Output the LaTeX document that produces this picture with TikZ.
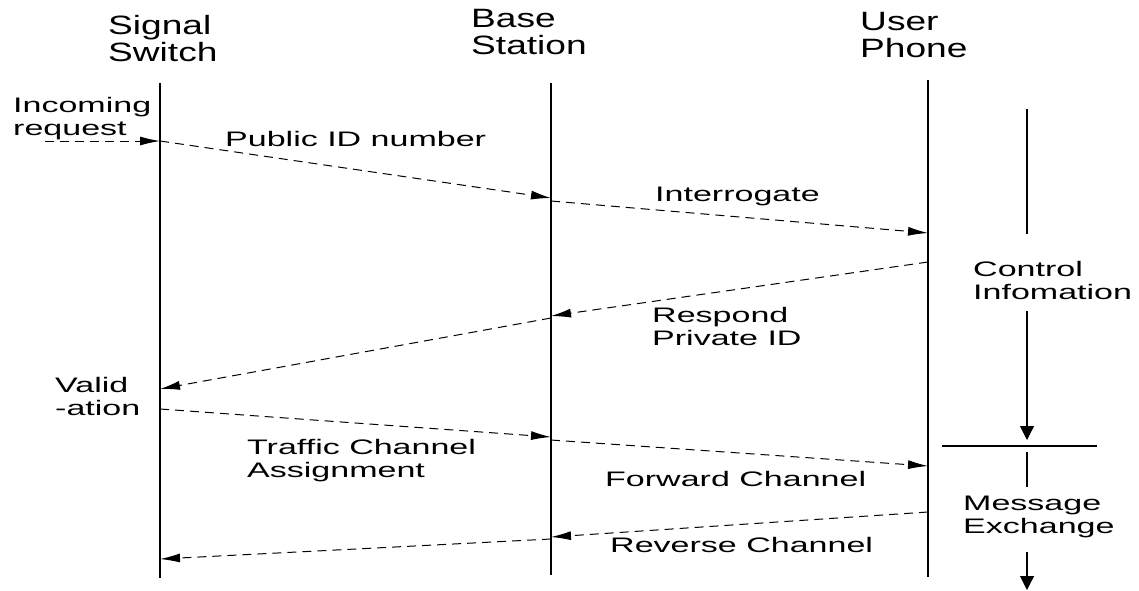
\documentclass[tikz,border=0pt]{standalone}
\usepackage{fontspec}
\setmainfont{Liberation Sans}
\newfontfamily\lblfont{Liberation Sans}[FakeStretch=1.62]
\newfontfamily\ttlfont{Liberation Sans}[FakeStretch=1.4]
\usetikzlibrary{arrows.meta}
\begin{document}
\begin{tikzpicture}[x=1pt,y=-1pt,
  msg/.style={draw, line width=1pt, dash pattern=on 9pt off 6pt, -{Latex[length=20pt,width=9pt]}},
  life/.style={draw, line width=1.1pt},
  vline/.style={draw, line width=1.1pt},
  varrow/.style={draw, line width=1.1pt, -{Triangle[length=14pt,width=14pt]}},
  lbl/.style={anchor=north west, inner sep=0pt, align=left, font=\lblfont\fontsize{21}{23}\selectfont},
  ttl/.style={anchor=north west, inner sep=0pt, align=left, font=\ttlfont\fontsize{26.5}{27.5}\selectfont}]
\useasboundingbox (0,0) rectangle (1139,590);
% titles
\node[ttl] (tss) at (108,15) {Signal\\Switch};
\node[ttl] (tbs) at (471,9) {Base\\Station};
\node[ttl] (tup) at (860,12) {User\\Phone};
% lifelines
\coordinate (ssT) at (160,83);  \coordinate (ssB) at (160,578);
\coordinate (bsT) at (551,83);  \coordinate (bsB) at (551,575);
\coordinate (upT) at (928,80);  \coordinate (upB) at (928,577);
\draw[life] (ssT) -- (ssB);
\draw[life] (bsT) -- (bsB);
\draw[life] (upT) -- (upB);
% message points
\coordinate (in0) at (45,141);
\coordinate (ss1) at (160,141);
\coordinate (bs1) at (551,198);
\coordinate (bs2) at (551,201);
\coordinate (up2) at (928,233);
\coordinate (up3) at (928,262);
\coordinate (bs3) at (551,316);
\coordinate (bs4) at (551,318);
\coordinate (ss4) at (160,389);
\coordinate (ss5) at (160,409);
\coordinate (bs5) at (551,437);
\coordinate (bs6) at (551,440);
\coordinate (up6) at (928,466);
\coordinate (up7) at (928,512);
\coordinate (bs7) at (551,537);
\coordinate (bs8) at (551,539);
\coordinate (ss8) at (160,559);
\draw[msg] (in0) -- (ss1);
\draw[msg] (ss1) -- (bs1);
\draw[msg] (bs2) -- (up2);
\draw[msg] (up3) -- (bs3);
\draw[msg] (bs4) -- (ss4);
\draw[msg] (ss5) -- (bs5);
\draw[msg] (bs6) -- (up6);
\draw[msg] (up7) -- (bs7);
\draw[msg] (bs8) -- (ss8);
% labels
\node[lbl] (inc) at (13,97) {Incoming\\request};
\node[lbl] (pub) at (225,131) {Public ID number};
\node[lbl] (intr) at (655,187) {Interrogate};
\node[lbl] (ctl) at (973,261) {Control\\Infomation};
\node[lbl] (resp) at (652,307) {Respond\\Private ID};
\node[lbl] (val) at (55,377) {Valid\\-ation};
\node[lbl] (tca) at (247,439) {Traffic Channel\\Assignment};
\node[lbl] (fwd) at (605,471) {Forward Channel};
\node[lbl] (rev) at (610,537) {Reverse Channel};
\node[lbl] (mex) at (963,496) {Message\\Exchange};
% right-side phase markers
\coordinate (c1) at (1027,109);
\coordinate (c2) at (1027,234);
\coordinate (c3) at (1027,311);
\coordinate (c4) at (1027,440);
\coordinate (hL) at (942,446);
\coordinate (hR) at (1097,446);
\coordinate (m1) at (1027,452);
\coordinate (m2) at (1027,487);
\coordinate (m3) at (1027,552);
\coordinate (m4) at (1027,590);
\draw[vline] (c1) -- (c2);
\draw[varrow] (c3) -- (c4);
\draw[vline] (hL) -- (hR);
\draw[vline] (m1) -- (m2);
\draw[varrow] (m3) -- (m4);
\end{tikzpicture}
\end{document}
